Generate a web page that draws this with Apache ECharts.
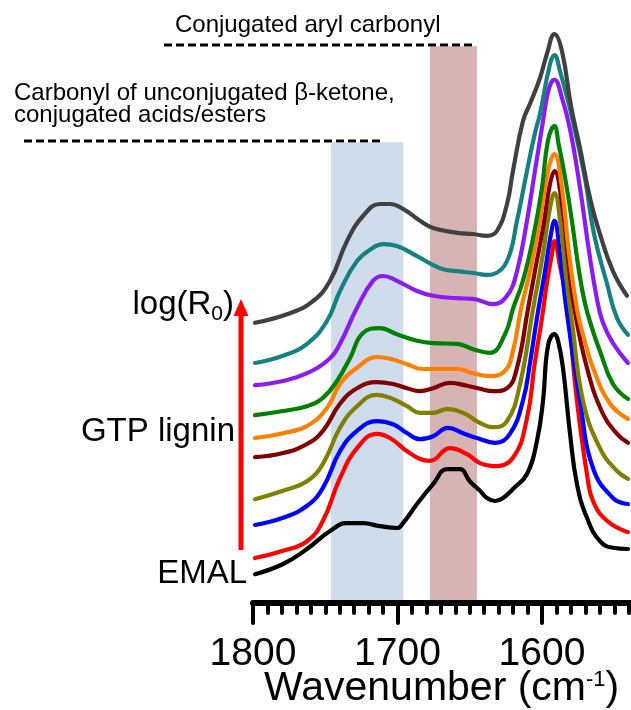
<!DOCTYPE html>
<html>
<head>
<meta charset="utf-8">
<script src="https://cdn.jsdelivr.net/npm/echarts@6/dist/echarts.min.js"></script>
<style>
html,body{margin:0;padding:0;background:#fff;}
#chart{width:631px;height:710px;}
</style>
</head>
<body>
<div id="chart"></div>
<script>
// ---- data: [wavenumber (cm-1), stacked intensity (a.u.)] ----
const emal = [[1798.6,4.8],[1779.2,6.5],[1762.6,9.0],[1746.7,12.0],[1735.0,13.3],[1723.9,13.3],[1712.1,12.8],[1700.4,12.5],[1696.2,13.3],[1686.5,16.5],[1675.4,19.8],[1665.8,22.3],[1656.8,22.3],[1650.0,20.3],[1642.9,18.7],[1638.1,17.5],[1632.5,17.0],[1627.0,17.5],[1620.1,19.0],[1610.4,21.5],[1603.5,27.0],[1599.3,33.7],[1595.9,42.8],[1591.4,44.8],[1588.9,43.7],[1585.5,39.2],[1580.6,28.2],[1575.8,19.8],[1568.9,14.2],[1559.9,10.3],[1550.9,9.2],[1540.5,9.0]];
const gtp1 = [[1798.6,7.5],[1779.2,8.7],[1762.6,10.3],[1751.6,13.7],[1739.8,20.8],[1728.0,25.8],[1714.2,28.2],[1705.2,27.5],[1693.4,25.3],[1684.4,24.0],[1677.5,23.7],[1663.7,25.8],[1651.9,24.8],[1642.9,23.3],[1633.9,22.8],[1620.1,24.2],[1610.4,30.8],[1605.0,40.0],[1600.0,47.5],[1596.6,53.3],[1593.1,58.2],[1591.4,60.3],[1587.6,56.2],[1582.7,49.8],[1575.8,33.7],[1568.9,21.5],[1564.7,17.0],[1555.0,13.7],[1540.5,11.8]];
const gtp2 = [[1798.6,13.0],[1779.2,14.2],[1762.6,16.2],[1751.6,19.2],[1739.8,25.3],[1728.0,28.7],[1714.2,30.3],[1703.1,29.8],[1693.4,28.3],[1684.4,27.3],[1675.4,27.8],[1665.1,29.2],[1654.7,28.3],[1645.0,27.5],[1632.5,26.7],[1622.2,28.2],[1613.2,33.7],[1608.0,40.5],[1603.5,47.5],[1597.9,55.3],[1593.8,61.5],[1591.4,63.7],[1587.6,58.2],[1583.4,49.5],[1573.7,33.7],[1564.7,22.5],[1550.9,17.5],[1540.5,16.5]];
const gtp3 = [[1798.6,17.3],[1779.2,18.7],[1762.6,20.3],[1751.6,23.2],[1739.8,29.2],[1728.0,32.8],[1714.2,34.7],[1703.1,34.0],[1693.4,32.8],[1684.4,31.7],[1675.4,31.7],[1665.8,32.3],[1654.7,31.7],[1642.9,30.0],[1633.9,29.3],[1624.2,30.3],[1615.2,36.5],[1606.2,49.0],[1599.3,58.2],[1594.5,65.8],[1591.4,68.3],[1586.9,62.5],[1583.4,54.5],[1579.3,47.0],[1571.6,33.7],[1559.9,25.8],[1548.1,22.0],[1540.5,20.7]];
const gtp4 = [[1798.6,24.3],[1779.2,25.0],[1762.6,26.5],[1751.6,28.7],[1739.8,33.2],[1728.0,35.8],[1714.2,36.8],[1703.1,36.5],[1693.4,35.8],[1684.4,35.3],[1675.4,35.8],[1663.7,36.7],[1651.9,36.2],[1642.9,35.7],[1633.9,35.3],[1624.2,35.8],[1617.3,39.2],[1609.7,49.0],[1604.9,55.3],[1599.3,62.5],[1594.5,69.8],[1591.4,72.0],[1586.2,66.5],[1581.3,55.8],[1577.9,49.5],[1568.9,39.2],[1557.8,31.5],[1548.1,28.2],[1540.5,26.7]];
const gtp5 = [[1798.6,27.5],[1779.2,28.3],[1762.6,29.5],[1748.8,32.5],[1739.8,36.5],[1728.0,39.2],[1714.2,41.0],[1705.2,40.7],[1693.4,39.8],[1682.4,39.0],[1670.6,39.0],[1658.8,39.0],[1647.8,38.3],[1636.0,37.8],[1625.6,38.7],[1620.1,42.0],[1614.5,49.0],[1608.3,55.3],[1601.4,63.7],[1595.9,72.0],[1591.4,74.8],[1586.2,69.2],[1581.3,58.2],[1575.8,49.0],[1571.4,44.5],[1564.7,39.2],[1552.9,33.2],[1540.5,30.7]];
const gtp6 = [[1798.6,31.3],[1779.2,32.0],[1762.6,32.8],[1751.6,34.2],[1741.9,37.0],[1732.9,40.8],[1723.9,45.0],[1712.1,45.8],[1700.4,44.8],[1686.5,43.7],[1675.4,43.3],[1658.8,43.2],[1647.8,42.3],[1636.0,41.7],[1625.6,44.8],[1620.1,49.0],[1613.2,53.7],[1606.2,60.8],[1600.0,69.2],[1595.9,77.0],[1591.4,79.5],[1588.5,76.5],[1584.1,71.0],[1579.3,63.7],[1574.4,55.3],[1570.3,50.0],[1565.0,45.5],[1559.9,42.0],[1550.9,36.5],[1540.5,34.0]];
const gtp7 = [[1798.6,36.3],[1779.2,37.0],[1762.6,38.3],[1746.7,40.8],[1739.8,43.2],[1728.0,49.2],[1717.0,53.7],[1710.0,54.5],[1700.4,53.7],[1686.5,52.0],[1675.4,51.2],[1658.8,50.8],[1647.8,50.7],[1633.9,49.8],[1624.2,51.2],[1617.3,55.3],[1610.4,63.7],[1604.9,72.0],[1599.3,80.3],[1596.6,84.3],[1593.8,86.7],[1591.4,87.2],[1586.2,84.2],[1580.6,79.0],[1573.7,69.2],[1567.5,58.7],[1562.0,50.7],[1557.8,46.7],[1550.9,43.3],[1540.5,40.0]];
const gtp8 = [[1798.6,40.0],[1779.2,41.2],[1762.6,43.2],[1748.8,47.0],[1739.8,52.0],[1728.0,57.0],[1717.0,59.2],[1710.0,59.8],[1700.4,59.5],[1686.5,57.8],[1670.6,55.8],[1658.8,55.3],[1647.8,55.0],[1638.1,54.7],[1633.9,54.8],[1624.2,57.0],[1617.3,63.7],[1610.4,72.0],[1604.9,78.3],[1601.4,81.5],[1594.5,89.8],[1591.4,91.3],[1587.6,88.7],[1578.6,80.3],[1570.3,70.8],[1564.0,61.5],[1555.0,53.2],[1548.1,47.5],[1540.5,44.7]];
const gtp9 = [[1798.6,46.7],[1774.4,48.3],[1758.5,50.3],[1746.7,53.7],[1735.0,60.3],[1723.9,64.5],[1712.1,66.5],[1705.2,66.5],[1696.2,65.7],[1684.4,63.7],[1675.4,62.5],[1658.8,61.7],[1647.8,61.5],[1638.1,61.2],[1631.2,62.0],[1624.2,66.5],[1620.1,72.0],[1613.2,80.3],[1608.3,83.2],[1601.4,87.5],[1596.6,91.5],[1591.4,94.8],[1586.2,92.0],[1579.9,82.8],[1573.7,75.8],[1566.8,67.5],[1559.9,61.5],[1550.9,55.3],[1541.2,51.2]];

const seriesNames = ['EMAL','GTP lignin 1','GTP lignin 2','GTP lignin 3','GTP lignin 4','GTP lignin 5','GTP lignin 6','GTP lignin 7','GTP lignin 8','GTP lignin 9'];
const seriesData = [emal, gtp1, gtp2, gtp3, gtp4, gtp5, gtp6, gtp7, gtp8, gtp9];
const seriesColors = ['#000000','#ff0000','#0000ff','#808000','#800000','#ff8000','#008000','#8a1cf2','#178080','#404040'];

// shaded bands: [from, to] wavenumber, top intensity
const bandBeta = [1746, 1696];
const bandBetaTop = 76.8;
const bandAryl = [1677.5, 1645];
const bandArylTop = 92.8;

// axis
const xMin = 1500, xMax = 1800, xStep = 100;

const FONT = '"Liberation Sans", Arial, sans-serif';

const chart = echarts.init(document.getElementById('chart'), null, {renderer: 'canvas'});

const series = seriesData.map((d, i) => ({
  name: seriesNames[i],
  type: 'line',
  data: d,
  showSymbol: false,
  smooth: 0.45,
  lineStyle: {color: seriesColors[i], width: 4.2, cap: 'round', join: 'round'},
  itemStyle: {color: seriesColors[i]},
  z: 2,
  silent: true
}));

series.push({
  type: 'line',
  data: [],
  z: 5,
  silent: true,
  markArea: {
    silent: true,
    data: [
      [{coord: [bandBeta[0], 0], itemStyle: {color: 'rgba(159,185,217,0.5)'}}, {coord: [bandBeta[1], bandBetaTop]}],
      [{coord: [bandAryl[0], 0], itemStyle: {color: 'rgba(173,105,105,0.5)'}}, {coord: [bandAryl[1], bandArylTop]}]
    ]
  }
});

const option = {
  backgroundColor: '#ffffff',
  animation: false,
  grid: {left: 253, top: 3, right: -55.5, height: 600, containLabel: false, outerBoundsMode: 'none'},
  xAxis: {
    type: 'value',
    inverse: true,
    min: xMin, max: xMax, interval: xStep,
    z: 10,
    axisLine: {lineStyle: {color: '#000', width: 6, cap: 'round'}},
    axisTick: {length: 20, lineStyle: {color: '#000', width: 4, cap: 'round'}},
    minorTick: {show: true, splitNumber: 10, length: 10, lineStyle: {color: '#000', width: 4, cap: 'round'}},
    axisLabel: {fontSize: 39, color: '#000', margin: 31, lineHeight: 40, fontFamily: FONT, showMaxLabel: true,
      formatter: v => String(v)},
    splitLine: {show: false},
    minorSplitLine: {show: false}
  },
  yAxis: {type: 'value', min: 0, max: 100, show: false},
  series: series,
  graphic: [
    {type: 'text', x: 175, y: 25, style: {text: 'Conjugated aryl carbonyl', font: '24px ' + FONT, fill: '#000', align: 'left', verticalAlign: 'middle'}},
    {type: 'line', shape: {x1: 164, y1: 45, x2: 475, y2: 45}, style: {stroke: '#000', lineWidth: 3, lineDash: [8, 4]}},
    {type: 'text', x: 14, y: 93.5, style: {text: 'Carbonyl of unconjugated β-ketone,', font: '24px ' + FONT, fill: '#000', align: 'left', verticalAlign: 'middle'}},
    {type: 'text', x: 14, y: 115, style: {text: 'conjugated acids/esters', font: '24px ' + FONT, fill: '#000', align: 'left', verticalAlign: 'middle'}},
    {type: 'line', shape: {x1: 24, y1: 141, x2: 382, y2: 141}, style: {stroke: '#000', lineWidth: 3, lineDash: [8, 4]}},
    {type: 'text', x: 234, y: 305, style: {
      text: '{a|log(R}{s|0}{a|)}', align: 'right', verticalAlign: 'middle',
      rich: {a: {fontSize: 33, fontFamily: FONT, fill: '#000', lineHeight: 40}, s: {fontSize: 21, fontFamily: FONT, fill: '#000', lineHeight: 21, verticalAlign: 'bottom'}}
    }},
    {type: 'text', x: 235, y: 432, style: {text: 'GTP lignin', font: '33px ' + FONT, fill: '#000', align: 'right', verticalAlign: 'middle'}},
    {type: 'text', x: 247, y: 574, style: {text: 'EMAL', font: '33px ' + FONT, fill: '#000', align: 'right', verticalAlign: 'middle'}},
    {type: 'line', shape: {x1: 241, y1: 550, x2: 241, y2: 312}, style: {stroke: '#ff0000', lineWidth: 5}},
    {type: 'polygon', shape: {points: [[241, 299], [233.5, 316], [248.5, 316]]}, style: {fill: '#ff0000'}},
    {type: 'text', x: 264, y: 689, style: {
      text: '{a|Wavenumber (cm}{s|-1}{a|)}', align: 'left', verticalAlign: 'middle',
      rich: {a: {fontSize: 41, fontFamily: FONT, fill: '#000', lineHeight: 41}, s: {fontSize: 22, fontFamily: FONT, fill: '#000', lineHeight: 22, verticalAlign: 'top'}}
    }}
  ]
};

chart.setOption(option);
</script>
</body>
</html>
